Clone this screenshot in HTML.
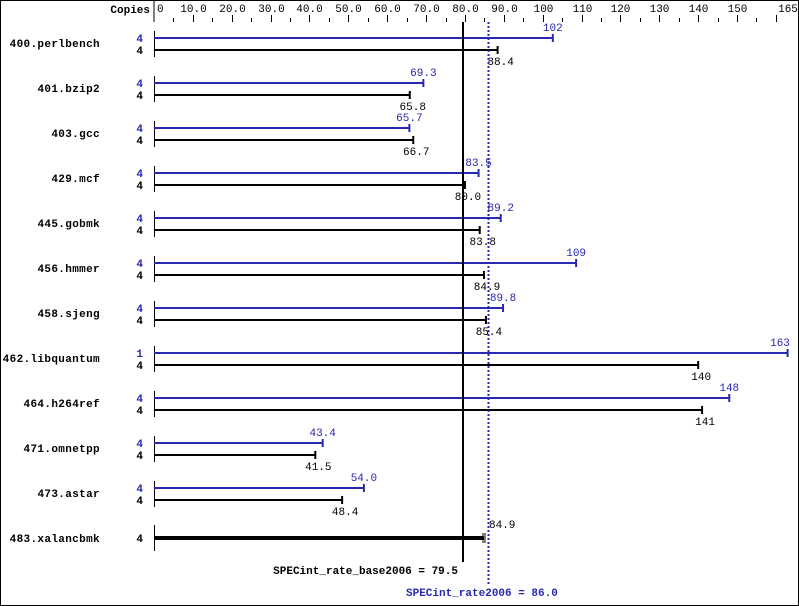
<!DOCTYPE html>
<html><head><style>body{margin:0;background:#fff}svg{display:block}</style></head><body>
<svg width="799" height="606" xmlns="http://www.w3.org/2000/svg" font-family="Liberation Mono, DejaVu Sans Mono, monospace" font-size="11">
<rect x="0.5" y="0.5" width="798" height="605" fill="#fff" stroke="#000"/>
<g id="g"></g>
<script>
var S=3.887,X0=154,ns="http://www.w3.org/2000/svg",g=document.getElementById('g');
function el(t,a,txt){var e=document.createElementNS(ns,t);for(var k in a)e.setAttribute(k,a[k]);if(txt!=null)e.textContent=txt;g.appendChild(e);return e;}
function px(v){return X0+v*S;}
el('text',{x:150,y:13,'text-anchor':'end','font-weight':'bold'},'Copies');
el('line',{x1:154,y1:0,x2:154,y2:22,stroke:'#000'});
for(var v=5;v<=160;v+=5){var x=Math.round(px(v))+0.5;var maj=v%10==0;el('line',{x1:x,y1:maj?15:18,x2:x,y2:22,stroke:'#000'});
 if(maj&&v<160)el('text',{x:x,y:12,'text-anchor':'middle'},v<100?v.toFixed(1):''+v);}
el('text',{x:157,y:12},'0');
el('text',{x:788,y:12,'text-anchor':'middle'},'165');
var B='#2828b0';
var d=[['400.perlbench',4,102.6,'102',4,88.4,'88.4'],['401.bzip2',4,69.3,'69.3',4,65.8,'65.8'],['403.gcc',4,65.7,'65.7',4,66.7,'66.7'],['429.mcf',4,83.5,'83.5',4,80.0,'80.0'],['445.gobmk',4,89.2,'89.2',4,83.8,'83.8'],['456.hmmer',4,108.6,'109',4,84.9,'84.9'],['458.sjeng',4,89.8,'89.8',4,85.4,'85.4'],['462.libquantum',1,163,'163',4,140,'140'],['464.h264ref',4,148,'148',4,141,'141'],['471.omnetpp',4,43.4,'43.4',4,41.5,'41.5'],['473.astar',4,54.0,'54.0',4,48.4,'48.4']];
d.forEach(function(r,i){var yb=38+45*i,yk=50+45*i;
 el('text',{x:100,y:yb+9,'text-anchor':'end','font-weight':'bold','letter-spacing':'0.35'},r[0]);
 el('line',{x1:154.5,y1:yb-7,x2:154.5,y2:yk+7,stroke:'#000'});
 el('text',{x:143,y:yb+4,'text-anchor':'end','font-weight':'bold',fill:B},''+r[1]);
 el('text',{x:143,y:yk+4,'text-anchor':'end','font-weight':'bold'},''+r[4]);
 var xb=px(r[2]),xk=px(r[5]);
 el('line',{x1:154,y1:yb,x2:xb,y2:yb,stroke:B,'stroke-width':2});
 el('line',{x1:xb,y1:yb-4,x2:xb,y2:yb+4,stroke:B,'stroke-width':2});
 el('text',{x:Math.min(xb,780),y:yb-7,'text-anchor':'middle',fill:B},r[3]);
 el('line',{x1:154,y1:yk,x2:xk,y2:yk,stroke:'#000','stroke-width':2});
 el('line',{x1:xk,y1:yk-4,x2:xk,y2:yk+4,stroke:'#000','stroke-width':2});
 el('text',{x:xk+3,y:yk+15,'text-anchor':'middle'},r[6]);
});
var y=538;
el('text',{x:100,y:y+4,'text-anchor':'end','font-weight':'bold','letter-spacing':'0.35'},'483.xalancbmk');
el('line',{x1:154.5,y1:y-13,x2:154.5,y2:y+13,stroke:'#000'});
el('text',{x:143,y:y+4,'text-anchor':'end','font-weight':'bold'},'4');
el('line',{x1:154,y1:y,x2:px(84.9),y2:y,stroke:'#000','stroke-width':4});
el('line',{x1:px(84.9)-1,y1:y-5,x2:px(84.9)-1,y2:y+5,stroke:'#000'});
el('line',{x1:px(84.9)+1,y1:y-5,x2:px(84.9)+1,y2:y+5,stroke:'#000'});
el('text',{x:489,y:y-10},'84.9');
el('line',{x1:463,y1:22,x2:463,y2:562,stroke:'#000','stroke-width':2});
el('line',{x1:488.5,y1:22,x2:488.5,y2:584,stroke:B,'stroke-width':2,'stroke-dasharray':'2,2'});
el('text',{x:458,y:574,'text-anchor':'end','font-weight':'bold'},'SPECint_rate_base2006 = 79.5');
el('text',{x:406,y:596,'font-weight':'bold',fill:B},'SPECint_rate2006 = 86.0');
</script>
</svg>
</body></html>
